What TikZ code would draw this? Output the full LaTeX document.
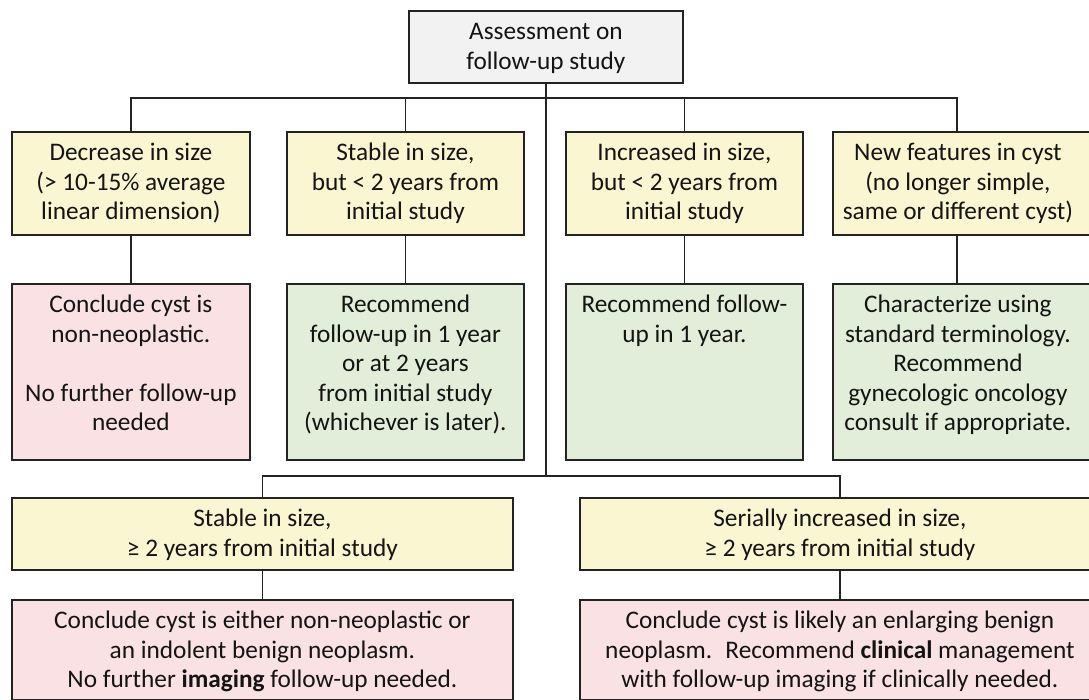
\documentclass[tikz,border=0pt]{standalone}
\usepackage{fontspec}
\setmainfont{Carlito}
\usetikzlibrary{calc}
\definecolor{byel}{RGB}{250,246,210}
\definecolor{bpink}{RGB}{249,225,228}
\definecolor{bgreen}{RGB}{226,238,218}
\definecolor{bgrey}{RGB}{242,242,242}
\definecolor{lineclr}{RGB}{35,35,35}
\definecolor{txtclr}{RGB}{20,20,20}
\tikzset{
  box/.style={draw=lineclr, line width=1.8pt, inner sep=0pt, anchor=north west,
    font=\fontsize{25.3}{29.5}\selectfont, text=txtclr, text height=29pt},
  conn/.style={draw=lineclr, line width=1.8pt},
  yel/.style={box, fill=byel},
  pnk/.style={box, fill=bpink},
  grn/.style={box, fill=bgreen},
  gry/.style={box, fill=bgrey},
}
\newcommand{\tb}[2]{\parbox[t]{#1}{\centering #2}}
\newcommand{\wbox}[1]{\parbox[t]{250pt}{\centering #1}\hspace*{14pt}}
\begin{document}
\begin{tikzpicture}[x=1pt,y=-1pt]
\useasboundingbox (0,0) rectangle (1089,700);
\clip (0,0) rectangle (1089,700);
\fill[white] (0,0) rectangle (1089,700);
% top
\node[gry, minimum width=274pt, text depth=43pt] (top) at (408,10) {\tb{270pt}{Assessment on\\follow-up study}};
% row 1
\node[yel, minimum width=238pt, text depth=74pt] (y1) at (11,131) {\tb{236pt}{Decrease in size\\(> 10-15\% average\\linear dimension)}};
\node[yel, minimum width=237pt, text depth=74pt] (y2) at (286,131) {\tb{235pt}{Stable in size,\\but < 2 years from\\initial study}};
\node[yel, minimum width=237pt, text depth=74pt] (y3) at (565,131) {\tb{235pt}{Increased in size,\\but < 2 years from\\initial study}};
\node[yel, minimum width=264pt, text depth=74pt] (y4) at (832,131) {\wbox{New features in cyst\\(no longer simple,\\same or different cyst)}};
% row 2
\node[pnk, minimum width=238pt, text depth=147pt] (r1) at (11,283) {\tb{236pt}{Conclude cyst is\\non-neoplastic.\\[29.5pt]No further follow-up\\needed}};
\node[grn, minimum width=237pt, text depth=147pt] (r2) at (286,283) {\tb{235pt}{Recommend\\follow-up in 1 year\\or at 2 years\\from initial study\\(whichever is later).}};
\node[grn, minimum width=237pt, text depth=147pt] (r3) at (565,283) {\tb{235pt}{Recommend follow-\\up in 1 year.}};
\node[grn, minimum width=264pt, text depth=147pt] (r4) at (832,283) {\wbox{Characterize using\\standard terminology.\\Recommend\\gynecologic oncology\\consult if appropriate.}};
% row 3
\node[yel, minimum width=501pt, text depth=43pt] (s1) at (11,497) {\tb{497pt}{Stable in size,\\≥ 2 years from initial study}};
\node[yel, minimum width=520pt, text depth=43pt] (s2) at (579,497) {\tb{516pt}{Serially increased in size,\\≥ 2 years from initial study}};
% row 4
\node[pnk, minimum width=501pt, text depth=71pt] (b1) at (11,599) {\tb{497pt}{Conclude cyst is either non-neoplastic or\\an indolent benign neoplasm.\\No further \textbf{imaging} follow-up needed.}};
\node[pnk, minimum width=520pt, text depth=71pt] (b2) at (579,599) {\tb{516pt}{Conclude cyst is likely an enlarging benign\\neoplasm.~ Recommend \textbf{clinical} management\\with follow-up imaging if clinically needed.}};
% connectors
\coordinate (bus1) at (0,98);
\coordinate (bus2) at (0,476);
\coordinate (y4c) at ($(y4.north west)+(125,0)$);
\coordinate (y4s) at ($(y4.south west)+(125,0)$);
\coordinate (r4c) at ($(r4.north west)+(125,0)$);
\draw[conn] (top.south) -- (top.south |- bus2);
\draw[conn] (y1.north) -- (y1.north |- bus1) -- (y4c |- bus1) -- (y4c);
\draw[conn] (y2.north) -- (y2.north |- bus1);
\draw[conn] (y3.north) -- (y3.north |- bus1);
\draw[conn] (y1.south) -- (r1.north);
\draw[conn] (y2.south) -- (r2.north);
\draw[conn] (y3.south) -- (r3.north);
\draw[conn] (y4s) -- (r4c);
\draw[conn] (s1.north) -- (s1.north |- bus2) -- (s2.north |- bus2) -- (s2.north);
\draw[conn] (s1.south) -- (b1.north);
\draw[conn] (s2.south) -- (b2.north);
\end{tikzpicture}
\end{document}
